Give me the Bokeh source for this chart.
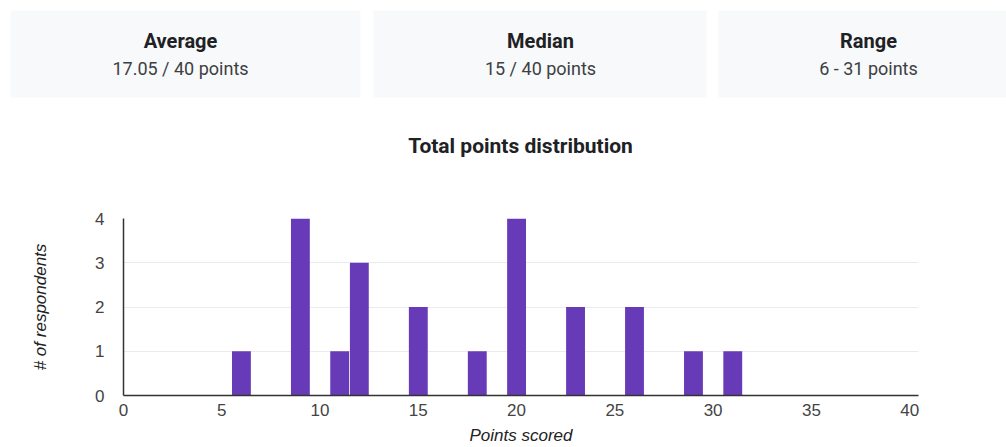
from bokeh.plotting import figure
from bokeh.layouts import column
from bokeh.models import Range1d, FixedTicker, ColumnDataSource
from bokeh.core.properties import value
from bokeh.embed import file_html
from bokeh.resources import INLINE

# ---- data ----
stat_names = ["Average", "Median", "Range"]
stat_values = ["17.05 / 40 points", "15 / 40 points", "6 - 31 points"]
chart_title = "Total points distribution"
scores = [6, 9, 11, 12, 15, 18, 20, 23, 26, 29, 31]
respondents = [1, 4, 1, 3, 2, 1, 4, 2, 2, 1, 1]
x_ticks = [0, 5, 10, 15, 20, 25, 30, 35, 40]
y_ticks = [0, 1, 2, 3, 4]
x_label = "Points scored"
y_label = "# of respondents"

W = 1006
TOP_H = 178
BOT_H = 269

# ---- top panel: summary cards + chart title ----
top = figure(width=W, height=TOP_H, x_range=Range1d(0, W), y_range=Range1d(TOP_H, 0),
             output_backend="svg", toolbar_location=None,
             min_border=0, min_border_left=0, min_border_right=0,
             min_border_top=0, min_border_bottom=0)
top.frame_align = False
top.axis.visible = False
top.grid.visible = False
top.outline_line_color = None
top.background_fill_color = "white"

card_left = [10, 373, 718]
card_right = [360, 706, 1020]
top.quad(left=card_left, right=card_right, top=10, bottom=97,
         fill_color="#f8f9fa", line_color=None)

text_x = [180, 540, 868]
top.text(x=text_x, y=[40] * 3, text=stat_names, text_align="center",
         text_baseline="middle", text_font=value("Roboto"),
         text_font_size="20px", text_font_style="bold", text_color="#202124")
top.text(x=text_x, y=[68] * 3, text=stat_values, text_align="center",
         text_baseline="middle", text_font=value("Roboto"),
         text_font_size="18px", text_color="#3c4043")
top.text(x=[520], y=[145], text=[chart_title], text_align="center",
         text_baseline="middle", text_font=value("Roboto"),
         text_font_size="21px", text_font_style="bold", text_color="#202124")

# ---- chart ----
p = figure(width=W, height=BOT_H, x_range=Range1d(0, 40.45), y_range=Range1d(0, 4),
           output_backend="svg", toolbar_location=None,
           min_border_left=123, min_border_right=88,
           min_border_top=40, min_border_bottom=49)
p.frame_align = False
p.outline_line_color = None

src = ColumnDataSource(dict(x=scores, top=respondents))
p.vbar(x="x", top="top", width=0.96, bottom=0, source=src,
       fill_color="#673ab7", line_color=None)

p.xgrid.visible = False
p.ygrid.grid_line_color = "#ebebeb"
p.ygrid.ticker = FixedTicker(ticks=y_ticks)

p.xaxis.ticker = FixedTicker(ticks=x_ticks)
p.yaxis.ticker = FixedTicker(ticks=y_ticks)
for ax in (p.xaxis, p.yaxis):
    ax.major_tick_line_color = None
    ax.minor_tick_line_color = None
    ax.axis_line_color = "#333333"
    ax.axis_line_width = 1.5
    ax.major_label_text_font = "Liberation Sans"
    ax.major_label_text_font_size = "17px"
    ax.major_label_text_color = "#444444"
    ax.axis_label_text_font = "Liberation Sans"
    ax.axis_label_text_font_size = "17px"
    ax.axis_label_text_font_style = "italic"
    ax.axis_label_text_color = "#222222"

p.xaxis.axis_label = x_label
p.yaxis.axis_label = y_label
p.xaxis.major_label_standoff = 2
p.xaxis.axis_label_standoff = 7
p.yaxis.major_label_standoff = 13
p.yaxis.axis_label_standoff = 42

layout = column(top, p, spacing=0)
open("out.html", "w").write(file_html(layout, INLINE))
